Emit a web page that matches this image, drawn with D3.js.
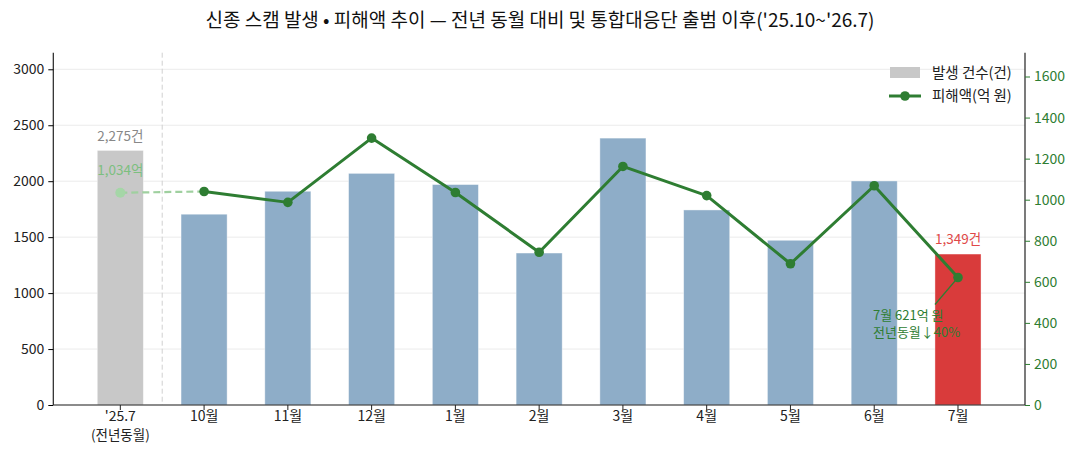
<!DOCTYPE html>
<html><head><meta charset="utf-8">
<script src="https://cdn.jsdelivr.net/npm/d3@7"></script>
<style>
body{margin:0;background:#fff;}
text{font-family:"Noto Sans CJK KR","Noto Sans",sans-serif;}
</style></head>
<body><svg id="c" width="1079" height="452"></svg>
<script>
const categories = ["'25.7","10월","11월","12월","1월","2월","3월","4월","5월","6월","7월"];
const counts = [2275,1705,1910,2070,1970,1358,2385,1743,1472,2002,1349];
const damages = [1034,1040,987,1300,1035,744,1162,1020,688,1068,621];
const leftTicks = [0,500,1000,1500,2000,2500,3000];
const rightTicks = [0,200,400,600,800,1000,1200,1400,1600];
const title = "신종 스캠 발생 • 피해액 추이 — 전년 동월 대비 및 통합대응단 출범 이후('25.10~'26.7)";

const svg = d3.select("#c");
const L=53.3, R=1025, T=52.7, B=405;
const x = d3.scaleLinear().domain([-0.8, categories.length-1+0.8]).range([L,R]);
const yL = d3.scaleLinear().domain([0, d3.max(counts)*1.32]).range([B,T]);
const yR = d3.scaleLinear().domain([0, d3.max(damages)*1.32]).range([B,T]);
const step = x(1)-x(0), bw = step*0.55;
const green = "#2e7d32";
const FS = 14;

// grid
svg.append("g").selectAll("line").data(leftTicks).join("line")
  .attr("x1",L).attr("x2",R).attr("y1",d=>yL(d)).attr("y2",d=>yL(d))
  .attr("stroke","#ebebeb").attr("stroke-width",1);

// divider
svg.append("line").attr("x1",x(0.5)).attr("x2",x(0.5)).attr("y1",T).attr("y2",B)
  .attr("stroke","#d0d0d0").attr("stroke-width",1).attr("stroke-dasharray","5,3");

// bars
svg.append("g").selectAll("rect").data(counts).join("rect")
  .attr("x",(d,i)=>x(i)-bw/2).attr("width",bw)
  .attr("y",d=>yL(d)).attr("height",d=>B-yL(d))
  .attr("fill",(d,i)=> i===0 ? "#c8c8c8" : (i===categories.length-1 ? "#d93b3b" : "#8eadc8"))
  .attr("stroke","#ffffff").attr("stroke-opacity",0.5).attr("stroke-width",0.8);

// dashed prior line
svg.append("line").attr("x1",x(0)).attr("y1",yR(damages[0])).attr("x2",x(1)).attr("y2",yR(damages[1]))
  .attr("stroke","#9fd09f").attr("stroke-width",2.2).attr("stroke-dasharray","7,4");
svg.append("circle").attr("cx",x(0)).attr("cy",yR(damages[0])).attr("r",5).attr("fill","#a5d6a7");

// main line
const pts = damages.slice(1).map((d,i)=>[x(i+1), yR(d)]);
svg.append("path").attr("d", d3.line()(pts)).attr("fill","none").attr("stroke",green).attr("stroke-width",3).attr("stroke-linejoin","round");
svg.append("g").selectAll("circle").data(pts).join("circle")
  .attr("cx",d=>d[0]).attr("cy",d=>d[1]).attr("r",4.8).attr("fill",green);

// labels
svg.append("text").attr("x",x(0)).attr("y",yL(counts[0])-9).attr("text-anchor","middle")
  .attr("font-size",13.5).attr("fill","#888").text(d3.format(",")(counts[0])+"건");
svg.append("text").attr("x",x(0)).attr("y",yR(damages[0])-18).attr("text-anchor","middle")
  .attr("font-size",13.5).attr("fill","#7cbf7f").text(d3.format(",")(damages[0])+"억");
const li = categories.length-1;
svg.append("text").attr("x",x(li)).attr("y",yL(counts[li])-10).attr("text-anchor","middle")
  .attr("font-size",13.5).attr("fill","#e04848").text(d3.format(",")(counts[li])+"건");

// annotation
svg.append("line").attr("x1",x(li)-23).attr("y1",yR(damages[li])+27).attr("x2",x(li)).attr("y2",yR(damages[li]))
  .attr("stroke",green).attr("stroke-width",1.2);
const ann = svg.append("text").attr("font-size",13).attr("fill",green);
ann.append("tspan").attr("x",x(li)-85).attr("y",yR(damages[li])+42).text("7월 621억 원");
ann.append("tspan").attr("x",x(li)-85).attr("y",yR(damages[li])+59).text("전년동월↓40%");

// axes
const axL = svg.append("g").attr("transform",`translate(${L},0)`)
  .call(d3.axisLeft(yL).tickValues(leftTicks).tickFormat(d3.format("d")).tickSize(5).tickPadding(4));
axL.select(".domain").attr("d",`M0,${T}V${B}`).attr("stroke","#222").attr("stroke-width",1.2);
axL.selectAll("text").attr("font-size",FS).attr("fill","#222").style("font-family",'"Noto Sans CJK KR",sans-serif');

const axR = svg.append("g").attr("transform",`translate(${R},0)`)
  .call(d3.axisRight(yR).tickValues(rightTicks).tickFormat(d3.format("d")).tickSize(5).tickPadding(4));
axR.select(".domain").attr("d",`M0,${T}V${B}`).attr("stroke","#222").attr("stroke-width",1.2);
axR.selectAll(".tick line").attr("stroke",green);
axR.selectAll("text").attr("font-size",FS).attr("fill",green).style("font-family",'"Noto Sans CJK KR",sans-serif');

// bottom axis
svg.append("line").attr("x1",L).attr("x2",R).attr("y1",B).attr("y2",B).attr("stroke","#222").attr("stroke-width",1.2);
const xt = svg.append("g").selectAll("g").data(categories).join("g").attr("transform",(d,i)=>`translate(${x(i)},${B})`);
xt.append("line").attr("y2",5).attr("stroke","#222");
xt.append("text").attr("y",11).attr("dy","0.35em").attr("text-anchor","middle").attr("font-size",FS).attr("fill","#222").text(d=>d);
svg.append("text").attr("x",x(0)).attr("y",B+30).attr("dy","0.35em").attr("text-anchor","middle").attr("font-size",13.5).attr("fill","#222").text("(전년동월)");

// legend
const lg = svg.append("g");
lg.append("rect").attr("x",890).attr("y",67).attr("width",30).attr("height",11).attr("fill","#c8c8c8");
lg.append("text").attr("x",932).attr("y",73).attr("dy","0.35em").attr("font-size",14.5).attr("fill","#222").text("발생 건수(건)");
lg.append("line").attr("x1",889).attr("x2",921).attr("y1",96).attr("y2",96).attr("stroke",green).attr("stroke-width",3);
lg.append("circle").attr("cx",905).attr("cy",96).attr("r",4.8).attr("fill",green);
lg.append("text").attr("x",932).attr("y",96).attr("dy","0.35em").attr("font-size",14.5).attr("fill","#222").text("피해액(억 원)");

// title
svg.append("text").attr("x",540).attr("y",20).attr("dy","0.35em").attr("text-anchor","middle")
  .attr("font-size",19).attr("fill","#111").text(title);
</script></body></html>
